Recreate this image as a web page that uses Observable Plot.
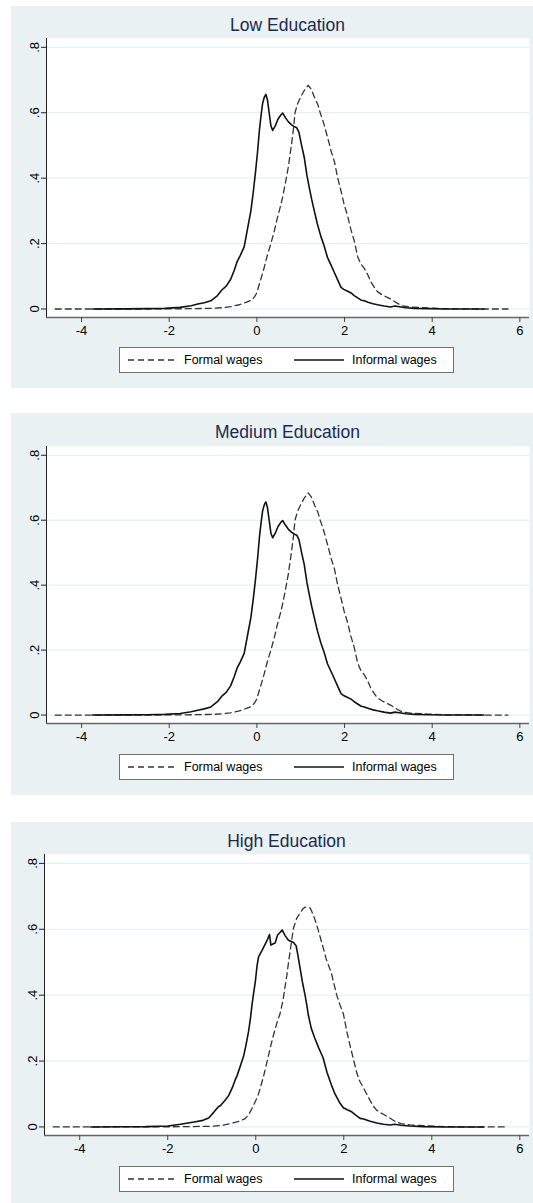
<!DOCTYPE html>
<html><head><meta charset="utf-8">
<script src="https://cdn.jsdelivr.net/npm/d3@7"></script>
<script src="https://cdn.jsdelivr.net/npm/@observablehq/plot@0.6"></script>
<style>
body{margin:0;background:#fff;font-family:"Liberation Sans",Arial,sans-serif;}
.panel{position:absolute;left:11px;width:522px;height:382px;background:#eaf1f3;overflow:hidden}
.panel svg{position:absolute;left:0;top:0}
.title{position:absolute;top:8px;font-size:17.5px;color:#1b2a55;text-align:center;line-height:22px;white-space:nowrap}
.legend{position:absolute;background:#fff;border:1px solid #707070;box-sizing:border-box;font-size:12.5px;color:#000}
.legend span{position:absolute;top:0;line-height:24px;white-space:nowrap}
.legend svg{position:absolute;top:0}
</style></head><body>
<script>
const titles = ["Low Education", "Medium Education", "High Education"];
const seriesNames = ["Formal wages", "Informal wages"];
const xTicks = [-4, -2, 0, 2, 4, 6];
const yTicks = [0, 0.2, 0.4, 0.6, 0.8];

const lowFormal = [[-4.6,0],[-3.5,0],[-2.5,0],[-2.0,0.0005],[-1.5,0.001],[-1.0,0.002],[-0.8,0.004],[-0.6,0.007],[-0.4,0.013],[-0.25,0.02],[-0.12,0.027],[-0.05,0.038],[0.0,0.05],[0.053,0.075],[0.11,0.1],[0.167,0.127],[0.24,0.165],[0.32,0.2],[0.4,0.24],[0.47,0.28],[0.53,0.31],[0.587,0.342],[0.662,0.393],[0.717,0.434],[0.776,0.49],[0.83,0.545],[0.87,0.6],[0.93,0.628],[1.0,0.648],[1.08,0.668],[1.17,0.684],[1.24,0.672],[1.32,0.645],[1.39,0.625],[1.445,0.6],[1.52,0.57],[1.61,0.526],[1.7,0.48],[1.77,0.45],[1.84,0.403],[1.92,0.36],[1.99,0.32],[2.07,0.285],[2.14,0.245],[2.22,0.209],[2.30,0.16],[2.37,0.138],[2.45,0.124],[2.53,0.105],[2.6,0.083],[2.68,0.066],[2.75,0.053],[2.85,0.044],[2.95,0.037],[3.06,0.03],[3.2,0.018],[3.31,0.01],[3.5,0.006],[3.9,0.003],[4.3,0.001],[5.0,0],[5.73,0]];
const lowInformal = [[-3.75,0],[-3.0,0.0005],[-2.5,0.001],[-2.1,0.002],[-1.75,0.005],[-1.5,0.01],[-1.35,0.015],[-1.2,0.019],[-1.05,0.025],[-0.9,0.041],[-0.8,0.058],[-0.7,0.07],[-0.6,0.09],[-0.52,0.117],[-0.45,0.145],[-0.38,0.163],[-0.29,0.19],[-0.2,0.255],[-0.137,0.30],[-0.08,0.36],[-0.03,0.42],[0.015,0.48],[0.06,0.55],[0.1,0.597],[0.13,0.628],[0.17,0.648],[0.205,0.656],[0.24,0.64],[0.28,0.6],[0.32,0.56],[0.36,0.546],[0.42,0.56],[0.48,0.58],[0.55,0.594],[0.59,0.599],[0.65,0.585],[0.72,0.572],[0.8,0.562],[0.86,0.557],[0.91,0.554],[0.96,0.54],[1.02,0.5],[1.08,0.464],[1.14,0.41],[1.19,0.375],[1.25,0.335],[1.31,0.30],[1.38,0.26],[1.46,0.222],[1.53,0.195],[1.61,0.158],[1.69,0.135],[1.76,0.114],[1.84,0.09],[1.92,0.066],[1.98,0.06],[2.06,0.055],[2.15,0.049],[2.22,0.041],[2.3,0.034],[2.38,0.027],[2.45,0.025],[2.55,0.02],[2.65,0.016],[2.75,0.013],[2.9,0.009],[3.05,0.006],[3.15,0.009],[3.25,0.007],[3.4,0.004],[3.6,0.002],[3.9,0.001],[4.3,0],[5.18,0]];

const mediumFormal = [[-4.6,0],[-3.5,0],[-2.5,0],[-2.0,0.0005],[-1.5,0.001],[-1.0,0.002],[-0.8,0.004],[-0.6,0.007],[-0.4,0.013],[-0.25,0.02],[-0.12,0.027],[-0.05,0.038],[0.0,0.05],[0.053,0.075],[0.11,0.1],[0.167,0.127],[0.24,0.165],[0.32,0.2],[0.4,0.24],[0.47,0.28],[0.53,0.31],[0.587,0.342],[0.662,0.393],[0.717,0.434],[0.776,0.49],[0.83,0.545],[0.87,0.6],[0.93,0.628],[1.0,0.648],[1.08,0.668],[1.17,0.684],[1.24,0.672],[1.32,0.645],[1.39,0.625],[1.445,0.6],[1.52,0.57],[1.61,0.526],[1.7,0.48],[1.77,0.45],[1.84,0.403],[1.92,0.36],[1.99,0.32],[2.07,0.285],[2.14,0.245],[2.22,0.209],[2.30,0.16],[2.37,0.138],[2.45,0.124],[2.53,0.105],[2.6,0.083],[2.68,0.066],[2.75,0.053],[2.85,0.044],[2.95,0.037],[3.06,0.03],[3.2,0.018],[3.31,0.01],[3.5,0.006],[3.9,0.003],[4.3,0.001],[5.0,0],[5.73,0]];
const mediumInformal = [[-3.75,0],[-3.0,0.0005],[-2.5,0.001],[-2.1,0.002],[-1.75,0.005],[-1.5,0.01],[-1.35,0.015],[-1.2,0.019],[-1.05,0.025],[-0.9,0.041],[-0.8,0.058],[-0.7,0.07],[-0.6,0.09],[-0.52,0.117],[-0.45,0.145],[-0.38,0.163],[-0.29,0.19],[-0.2,0.255],[-0.137,0.30],[-0.08,0.36],[-0.03,0.42],[0.015,0.48],[0.06,0.55],[0.1,0.597],[0.13,0.628],[0.17,0.648],[0.205,0.656],[0.24,0.64],[0.28,0.6],[0.32,0.56],[0.36,0.546],[0.42,0.56],[0.48,0.58],[0.55,0.594],[0.59,0.599],[0.65,0.585],[0.72,0.572],[0.8,0.562],[0.86,0.557],[0.91,0.554],[0.96,0.54],[1.02,0.5],[1.08,0.464],[1.14,0.41],[1.19,0.375],[1.25,0.335],[1.31,0.30],[1.38,0.26],[1.46,0.222],[1.53,0.195],[1.61,0.158],[1.69,0.135],[1.76,0.114],[1.84,0.09],[1.92,0.066],[1.98,0.06],[2.06,0.055],[2.15,0.049],[2.22,0.041],[2.3,0.034],[2.38,0.027],[2.45,0.025],[2.55,0.02],[2.65,0.016],[2.75,0.013],[2.9,0.009],[3.05,0.006],[3.15,0.009],[3.25,0.007],[3.4,0.004],[3.6,0.002],[3.9,0.001],[4.3,0],[5.18,0]];

const highFormal = [[-4.6,0],[-3.5,0],[-2.5,0],[-2.0,0.0005],[-1.5,0.001],[-1.0,0.002],[-0.8,0.004],[-0.58,0.01],[-0.4,0.016],[-0.24,0.025],[-0.15,0.04],[-0.086,0.056],[0.0,0.08],[0.05,0.095],[0.10,0.117],[0.18,0.155],[0.254,0.197],[0.33,0.24],[0.403,0.279],[0.48,0.315],[0.555,0.345],[0.62,0.385],[0.706,0.46],[0.745,0.5],[0.78,0.532],[0.82,0.57],[0.857,0.603],[0.93,0.633],[1.0,0.648],[1.07,0.662],[1.12,0.667],[1.19,0.667],[1.24,0.664],[1.31,0.643],[1.38,0.615],[1.445,0.586],[1.52,0.55],[1.6,0.51],[1.72,0.466],[1.84,0.40],[1.92,0.368],[1.99,0.344],[2.07,0.289],[2.15,0.243],[2.215,0.208],[2.30,0.162],[2.37,0.137],[2.45,0.118],[2.52,0.1],[2.6,0.08],[2.68,0.062],[2.745,0.051],[2.85,0.042],[2.92,0.037],[3.01,0.03],[3.15,0.018],[3.3,0.01],[3.5,0.006],[3.9,0.003],[4.3,0.001],[5.0,0],[5.73,0]];
const highInformal = [[-3.75,0],[-3.0,0.0005],[-2.5,0.001],[-2.0,0.003],[-1.71,0.008],[-1.4,0.015],[-1.2,0.02],[-1.07,0.027],[-0.95,0.045],[-0.86,0.06],[-0.8,0.065],[-0.7,0.08],[-0.616,0.095],[-0.53,0.12],[-0.47,0.142],[-0.426,0.155],[-0.35,0.185],[-0.276,0.215],[-0.22,0.25],[-0.163,0.29],[-0.12,0.33],[-0.086,0.37],[-0.05,0.405],[-0.01,0.44],[0.03,0.49],[0.064,0.516],[0.14,0.535],[0.215,0.555],[0.27,0.57],[0.313,0.584],[0.344,0.552],[0.40,0.556],[0.44,0.558],[0.494,0.582],[0.55,0.59],[0.60,0.598],[0.67,0.58],[0.743,0.567],[0.857,0.56],[0.917,0.55],[0.96,0.52],[1.008,0.481],[1.06,0.44],[1.12,0.40],[1.16,0.37],[1.196,0.339],[1.26,0.3],[1.34,0.27],[1.43,0.24],[1.53,0.21],[1.62,0.165],[1.72,0.127],[1.8,0.1],[1.9,0.075],[1.99,0.058],[2.08,0.052],[2.18,0.046],[2.28,0.035],[2.37,0.026],[2.45,0.024],[2.6,0.017],[2.75,0.012],[2.9,0.008],[3.06,0.006],[3.15,0.008],[3.3,0.005],[3.5,0.003],[3.8,0.001],[4.3,0],[5.18,0]];

const xDomain = [-4.8, 6.22];
const yDomain = [-0.026, 0.827];
const W = 522, H = 345, MR = 4;

const panels = [
  {title: titles[0], formal: lowFormal, informal: lowInformal, top: 6, ml: 35, mt: 32, axisY: 311, legendTop: 341},
  {title: titles[1], formal: mediumFormal, informal: mediumInformal, top: 413, ml: 35, mt: 33, axisY: 310, legendTop: 341},
  {title: titles[2], formal: highFormal, informal: highInformal, top: 822, ml: 33, mt: 32, axisY: 313, legendTop: 344}
];

const fmtY = d => d === 0 ? "0" : String(d).replace(/^0/, "");

for (const p of panels) {
  const div = document.createElement("div");
  div.className = "panel";
  div.style.top = p.top + "px";
  document.body.appendChild(div);

  const chart = Plot.plot({
    width: W, height: H,
    marginLeft: p.ml, marginRight: MR, marginTop: p.mt, marginBottom: H - p.axisY,
    style: {background: "transparent", fontFamily: "Liberation Sans, Arial, sans-serif", fontSize: "13px", color: "#000", overflow: "visible"},
    x: {domain: xDomain},
    y: {domain: yDomain},
    marks: [
      Plot.frame({fill: "white", stroke: "none"}),
      Plot.ruleY(yTicks, {stroke: "#e2ecef", strokeWidth: 1}),
      Plot.line(p.formal, {x: d => d[0], y: d => d[1], stroke: "#333", strokeWidth: 1.3, strokeDasharray: "6,4"}),
      Plot.line(p.informal, {x: d => d[0], y: d => d[1], stroke: "#111", strokeWidth: 1.6}),
      Plot.ruleX([xDomain[0]], {stroke: "#222", strokeWidth: 1}),
      Plot.ruleY([yDomain[0]], {stroke: "#666", strokeWidth: 1.5}),
      Plot.axisY(yTicks, {tickRotate: -90, tickSize: 5, tickPadding: 3, tickFormat: fmtY, label: null, fontSize: 13, stroke: "#222"}),
      Plot.axisX(xTicks, {tickSize: 5, tickPadding: 3, tickFormat: d => String(d), label: null, fontSize: 13, stroke: "#444"})
    ]
  });
  div.appendChild(chart);

  const t = document.createElement("div");
  t.className = "title";
  t.style.left = p.ml + "px";
  t.style.width = (W - p.ml - MR) + "px";
  t.textContent = p.title;
  div.appendChild(t);

  const leg = document.createElement("div");
  leg.className = "legend";
  leg.style.left = "108px";
  leg.style.top = p.legendTop + "px";
  leg.style.width = "335px";
  leg.style.height = "26px";
  leg.innerHTML =
    `<svg width="60" height="24" style="left:6px"><line x1="2" x2="52" y1="12" y2="12" stroke="#333" stroke-width="1.3" stroke-dasharray="6,4"/></svg>` +
    `<span style="left:64px">${seriesNames[0]}</span>` +
    `<svg width="60" height="24" style="left:172px"><line x1="2" x2="52" y1="12" y2="12" stroke="#111" stroke-width="1.6"/></svg>` +
    `<span style="left:232px">${seriesNames[1]}</span>`;
  div.appendChild(leg);
}
</script>
</body></html>
